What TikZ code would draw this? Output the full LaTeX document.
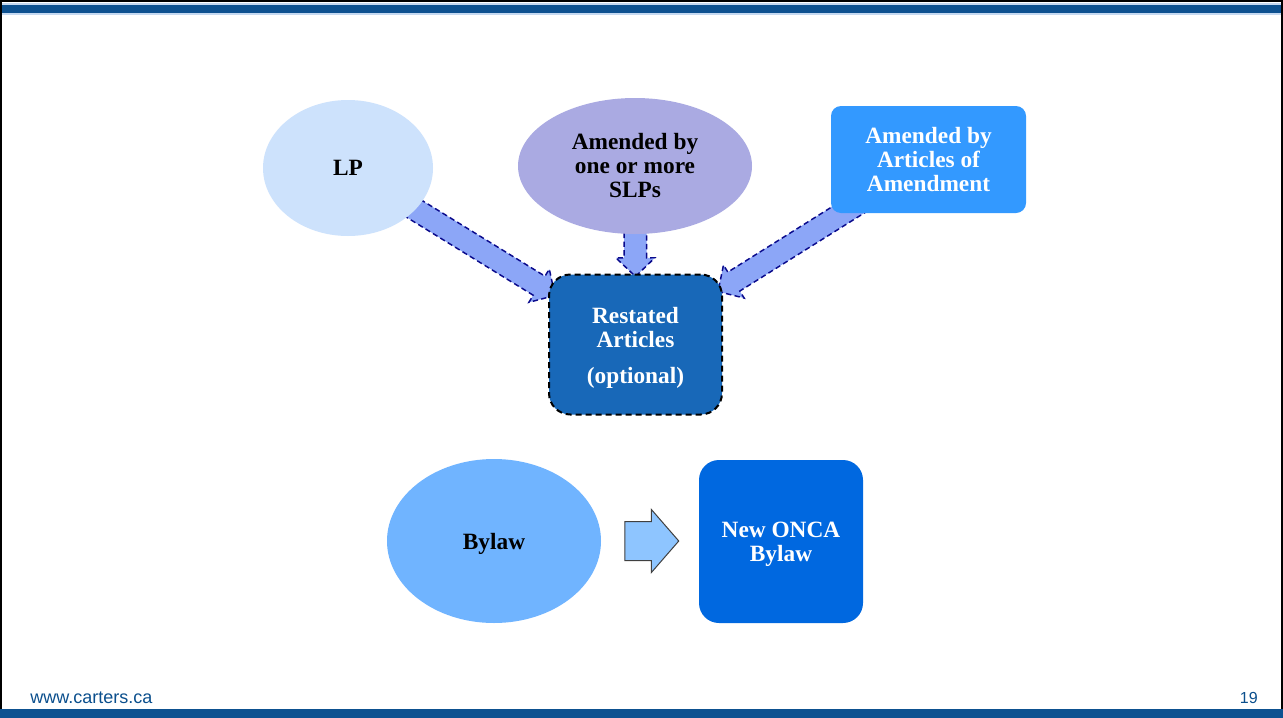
\documentclass[tikz,border=0pt]{standalone}
\usepackage{fontspec}
\setmainfont{Liberation Serif}
\newfontfamily\footfont{Liberation Sans}
\usepackage{tikz}
\usetikzlibrary{calc,shapes.geometric,shapes.arrows,backgrounds}
\definecolor{Band}{HTML}{0D5190}
\definecolor{BandLight}{HTML}{C5D9F1}
\definecolor{LPFill}{HTML}{CDE2FC}
\definecolor{SLPFill}{HTML}{AAAAE2}
\definecolor{AoAFill}{HTML}{3399FF}
\definecolor{RestFill}{HTML}{1868B8}
\definecolor{BylawFill}{HTML}{70B4FF}
\definecolor{OncaFill}{HTML}{0068E0}
\definecolor{ConvFill}{HTML}{8EC5FF}
\definecolor{FatFill}{HTML}{8CA6F7}
\definecolor{FatLine}{HTML}{0A0A8C}
\definecolor{FootBlue}{HTML}{0B4F8D}
\pgfdeclarelayer{behind}
\pgfsetlayers{behind,main}
% wide block arrow from node #1 to tip #2
\newcommand{\fatarrow}[2]{%
  \coordinate (hb) at ($(#2)!14pt!(#1)$);
  \draw[fatline] ($(#1)!8.4pt!90:(#2)$) -- ($(hb)!8.4pt!-90:(#1)$) -- ($(hb)!14.6pt!-90:(#1)$)
    -- (#2) -- ($(hb)!14.6pt!90:(#1)$) -- ($(hb)!8.4pt!90:(#1)$) -- ($(#1)!8.4pt!-90:(#2)$) -- cycle;}

\begin{document}
\begin{tikzpicture}[x=0.75pt,y=-0.75pt,
  every node/.style={font=\bfseries\fontsize{17.5}{18}\selectfont, align=center, inner sep=0pt},
  bubble/.style={ellipse, text=black},
  panel/.style={rounded corners=7.5pt, text=white},
  fatline/.style={fill=FatFill, draw=FatLine, line width=1.1pt, dash pattern=on 4pt off 2.5pt}]
\useasboundingbox (0,0) rectangle (1283,718);

% top row
\node[bubble, fill=LPFill, minimum width=127.5pt, minimum height=102pt] (lp) at (348,168) {LP};
\node[bubble, fill=SLPFill, minimum width=175.5pt, minimum height=102pt] (slp) at (635,166) {Amended by\\one or more\\SLPs};
\node[panel, fill=AoAFill, minimum width=146.25pt, minimum height=80.25pt] (aoa) at (928.5,159.5) {Amended by\\Articles of\\Amendment};
\node[panel, rounded corners=16pt, fill=RestFill, draw=black, line width=1.5pt, dash pattern=on 4.5pt off 3pt,
  minimum width=129.75pt, minimum height=105pt] (rest) at (635.5,344.5) {};
\node[text=white] (resttext) at (635.5,348) {Restated\\Articles\\[9pt](optional)};

% bottom row
\node[bubble, fill=BylawFill, minimum width=160.5pt, minimum height=123pt] (bylaw) at (494,541) {};
\node (bylawtext) at (494,543.5) {Bylaw};
\node[panel, rounded corners=15pt, fill=OncaFill, minimum width=123pt, minimum height=122.25pt] (onca) at (781,541.5) {};
\node[text=white] (oncatext) at (781,544) {New ONCA\\Bylaw};
\node[single arrow, fill=ConvFill, draw=black!75, line width=0.75pt, minimum height=40.5pt, inner xsep=0pt, inner ysep=14.25pt,
  single arrow head extend=9pt, single arrow tip angle=98, anchor=tail] (conv) at ($(bylaw.east)+(23,0)$) {};

% block arrows into the restated articles
\coordinate (lptip) at ($(rest.north west)+(7,22)$);
\coordinate (slptip) at ($(rest.north)+(0,3)$);
\coordinate (aoatip) at ($(rest.north east)+(-5,18)$);
\begin{pgfonlayer}{behind}
\fill[white] (0,0) rectangle (1283,718);
\fatarrow{lp}{lptip}
\fatarrow{slp}{slptip}
\fatarrow{aoa}{aoatip}
\end{pgfonlayer}

% slide frame
\draw[line width=1.5pt] (1,718) -- (1,1) -- (1282,1) -- (1282,718);
\fill[BandLight] (2,3) rectangle (1281,15);
\fill[Band] (2,5) rectangle (1281,13);
\fill[Band] (0,709) rectangle (1283,718);
\node[anchor=base west, font=\footfont\fontsize{13.5}{14}\selectfont, text=FootBlue] (url) at (30,703) {www.carters.ca};
\node[anchor=base east, font=\footfont\fontsize{12}{14}\selectfont, text=FootBlue] (pageno) at (1258,703) {19};
\end{tikzpicture}
\end{document}
